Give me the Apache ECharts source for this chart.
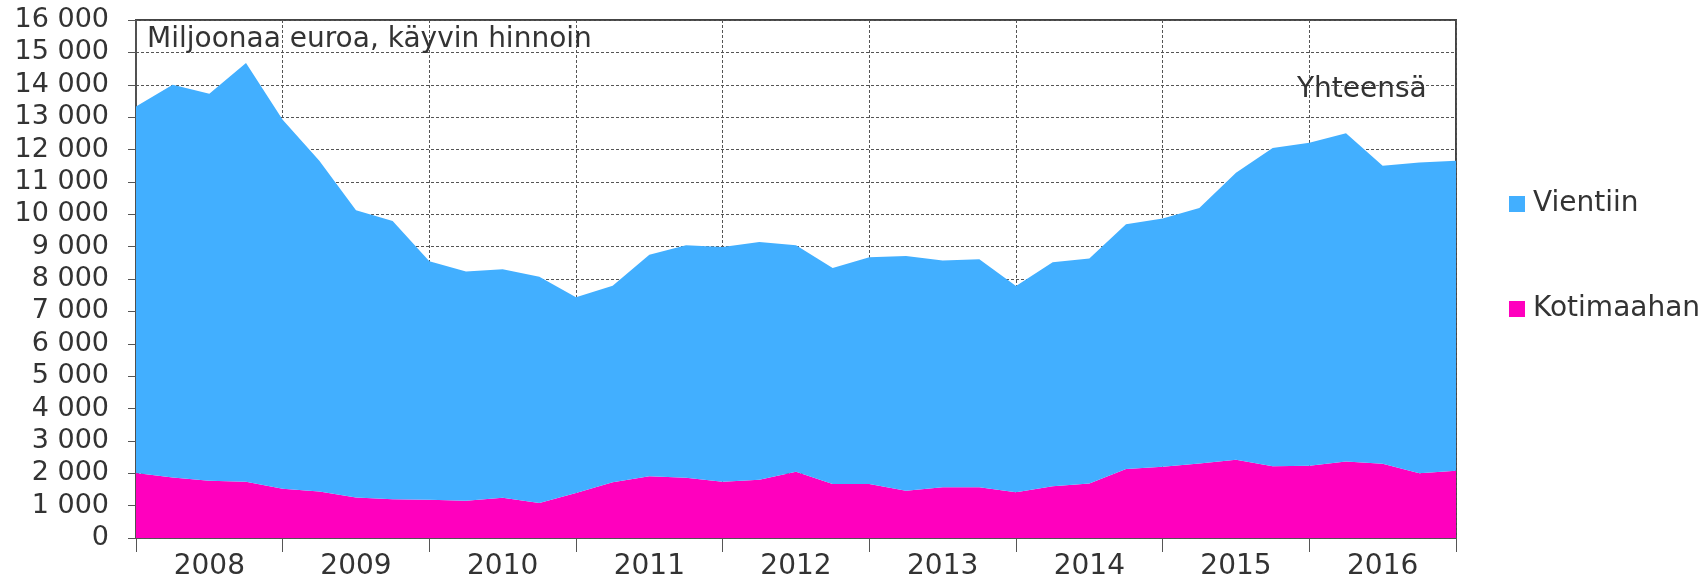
<!DOCTYPE html>
<html>
<head>
<meta charset="utf-8">
<script src="https://cdn.jsdelivr.net/npm/echarts@6/dist/echarts.min.js"></script>
<style>
html,body{margin:0;padding:0;background:#fff;}
#chart{width:1702px;height:580px;}
</style>
</head>
<body>
<div id="chart"></div>
<script>
// Quarterly categories 2008Q1 .. 2017Q1
const categories = [
  '2008Q1','2008Q2','2008Q3','2008Q4',
  '2009Q1','2009Q2','2009Q3','2009Q4',
  '2010Q1','2010Q2','2010Q3','2010Q4',
  '2011Q1','2011Q2','2011Q3','2011Q4',
  '2012Q1','2012Q2','2012Q3','2012Q4',
  '2013Q1','2013Q2','2013Q3','2013Q4',
  '2014Q1','2014Q2','2014Q3','2014Q4',
  '2015Q1','2015Q2','2015Q3','2015Q4',
  '2016Q1','2016Q2','2016Q3','2016Q4',
  '2017Q1'
];
// Domestic (Kotimaahan), million euro
const kotimaahan = [
  2010,1870,1770,1740, 1520,1440,1250,1200, 1180,1150,1240,1080,
  1390,1720,1910,1860, 1740,1800,2050,1670, 1670,1460,1570,1570,
  1410,1600,1680,2130, 2200,2300,2420,2220, 2230,2360,2290,2000,
  2080
];
// Exports (Vientiin), million euro, stacked on top of domestic
const vientiin = [
  11320,12130,11950,12930, 11400,10210,8870,8590, 7370,7080,7060,6990,
  6050,6070,6840,7180, 7250,7340,6990,6670, 7000,7250,7000,7040,
  6370,6920,6950,7560, 7670,7890,8860,9830, 9980,10140,9210,9600,
  9570
];
const seriesNames = ['Vientiin', 'Kotimaahan'];
const yTicks = { min: 0, max: 16000, step: 1000 };
const unitText = 'Miljoonaa euroa, käyvin hinnoin';
const totalText = 'Yhteensä';

const FONT = '"DejaVu Sans", Verdana, sans-serif';
const TXT = '#333333';
const BLUE = '#42AFFF';
const PINK = '#FF00BE';

function fmtThousands(v) {
  return String(v).replace(/\B(?=(\d{3})+(?!\d))/g, ' ');
}

const chart = echarts.init(document.getElementById('chart'), null, {renderer: 'canvas'});
chart.setOption({
  animation: false,
  backgroundColor: '#ffffff',
  textStyle: { fontFamily: FONT },
  grid: {
    left: 136, right: 246, top: 20, bottom: 42,
    outerBoundsMode: 'none', containLabel: false,
    show: true, borderColor: '#444444', borderWidth: 2, backgroundColor: 'transparent'
  },
  legend: {
    data: seriesNames,
    orient: 'vertical',
    left: 1504, top: 185,
    itemWidth: 16, itemHeight: 16, itemGap: 77,
    icon: 'rect',
    textStyle: { fontFamily: FONT, fontSize: 28, color: TXT, padding: [0,0,0,3] }
  },
  xAxis: {
    type: 'category',
    data: categories,
    boundaryGap: false,
    axisLine: { show: true, lineStyle: { color: '#555555', width: 1.5 } },
    axisTick: { show: true, interval: 3, length: 14, lineStyle: { color: '#555555', width: 1 } },
    axisLabel: {
      interval: function (idx) { return idx % 4 === 2; },
      formatter: function (v) { return v.slice(0, 4); },
      fontFamily: FONT, fontSize: 28, color: TXT, margin: 15
    },
    splitLine: { show: true, interval: 3, lineStyle: { color: '#555555', width: 1, type: [3, 2] } }
  },
  yAxis: {
    type: 'value',
    min: yTicks.min, max: yTicks.max, interval: yTicks.step,
    axisLine: { show: true, lineStyle: { color: '#555555', width: 1.5 } },
    axisTick: { show: true, length: 8, lineStyle: { color: '#555555', width: 1 } },
    axisLabel: {
      formatter: fmtThousands,
      fontFamily: FONT, fontSize: 27, color: TXT, margin: 27
    },
    splitLine: { show: true, lineStyle: { color: '#555555', width: 1, type: [3, 2] } }
  },
  graphic: [
    { type: 'text', left: 147, top: 26, z: 100,
      style: { text: unitText, font: '28px ' + FONT, fill: TXT } },
    { type: 'text', left: 1297, top: 76, z: 100,
      style: { text: totalText, font: '28px ' + FONT, fill: TXT } }
  ],
  series: [
    {
      name: 'Kotimaahan', type: 'line', stack: 'total', data: kotimaahan,
      symbol: 'none', lineStyle: { width: 0 }, itemStyle: { color: PINK },
      areaStyle: { color: PINK, opacity: 1 }
    },
    {
      name: 'Vientiin', type: 'line', stack: 'total', data: vientiin,
      symbol: 'none', lineStyle: { width: 0 }, itemStyle: { color: BLUE },
      areaStyle: { color: BLUE, opacity: 1 }
    }
  ]
});
</script>
</body>
</html>
